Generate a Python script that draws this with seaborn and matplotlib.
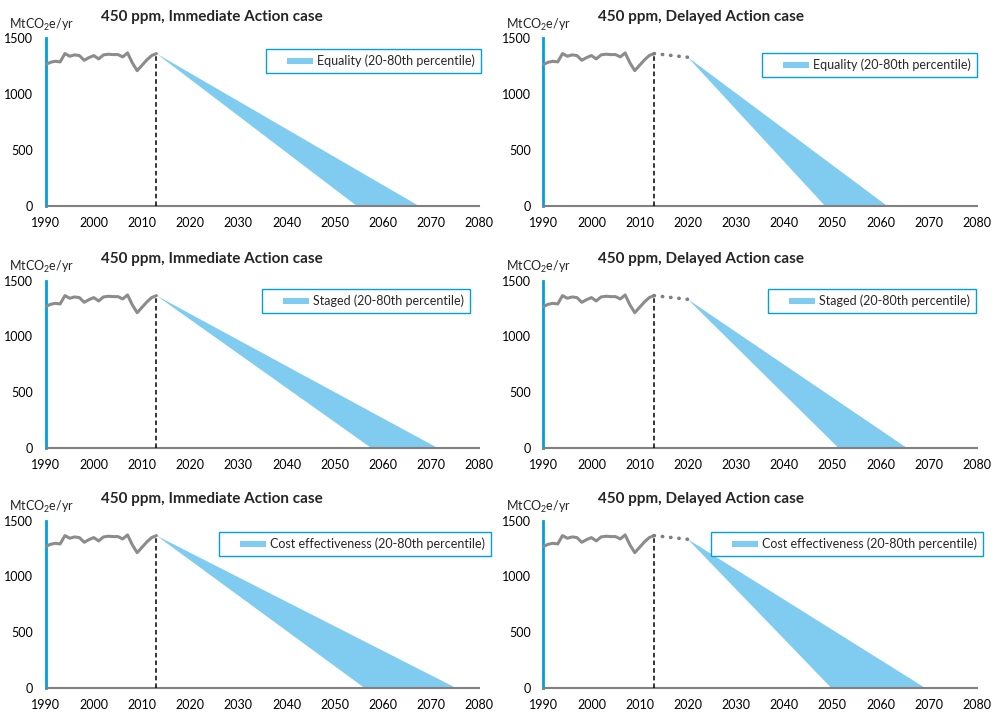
import matplotlib
matplotlib.use("Agg")
import matplotlib.pyplot as plt
import seaborn as sns
import pandas as pd
from matplotlib.patches import Rectangle
from matplotlib.legend_handler import HandlerPatch

# historical emissions (MtCO2e/yr)
years_hist = list(range(1990, 2014))
emissions_hist = [1266, 1287, 1296, 1290, 1365, 1341, 1353, 1347, 1305, 1329,
                  1347, 1317, 1353, 1359, 1356, 1356, 1335, 1371, 1281, 1212,
                  1260, 1308, 1347, 1365]

# delayed action: flat-ish extension until 2020
delay_years = [2013, 2020]
delay_values = [1365, 1332]

regimes = ["Equality", "Staged", "Cost effectiveness"]
cases = ["Immediate", "Delayed"]

# year at which the 20th / 80th percentile pathways reach zero
immediate_lower_zero = [2054.6, 2057.6, 2056.2]
immediate_upper_zero = [2067.5, 2071.4, 2075.2]
delayed_lower_zero = [2048.5, 2051.3, 2049.8]
delayed_upper_zero = [2061.4, 2065.5, 2069.3]

x_ticks = list(range(1990, 2081, 10))
y_ticks = [0, 500, 1000, 1500]

# legend anchors (axes fraction), per row / column
legend_anchor = [[(1.004, 0.937), (1.0, 0.913)],
                 [(0.979, 0.949), (0.998, 0.949)],
                 [(1.027, 0.931), (1.014, 0.931)]]

sns.set_style("white")
plt.rcParams["font.family"] = ["Lato", "DejaVu Sans"]
plt.rcParams["mathtext.default"] = "regular"

band_color = "#80CCF0"
blue = "#00A0E0"
grey = "#8C8C8C"


# legend swatch sits at the right part of a wider handle box (Excel look)
def swatch(legend, orig_handle, xdescent, ydescent, width, height, fontsize):
    sw = 19.0
    return Rectangle((width - xdescent - sw, -ydescent + height * 0.1), sw, height * 0.75)


hist = pd.DataFrame({"year": years_hist, "value": emissions_hist})

fig = plt.figure(figsize=(9.99, 7.14), dpi=100)

lefts = [0.0457, 0.5438]
bottoms = [0.7115, 0.3725, 0.0364]
w, h = 0.434, 0.2346

for r, regime in enumerate(regimes):
    for c, case in enumerate(cases):
        ax = fig.add_axes([lefts[c], bottoms[r], w, h])

        sns.lineplot(data=hist, x="year", y="value", ax=ax, color=grey,
                     linewidth=2.2, zorder=3)

        if case == "Immediate":
            x0, y0 = years_hist[-1], emissions_hist[-1]
            lo, hi = immediate_lower_zero[r], immediate_upper_zero[r]
        else:
            ax.plot(delay_years, delay_values, color="#7F7F7F", linewidth=2.6,
                    linestyle=(0, (0.1, 2.2)), dash_capstyle="round", zorder=3)
            x0, y0 = delay_years[-1], delay_values[-1]
            lo, hi = delayed_lower_zero[r], delayed_upper_zero[r]

        band = ax.fill([x0, lo, hi], [y0, 0, 0], color=band_color, linewidth=0,
                       label=f"{regime} (20-80th percentile)", zorder=2)[0]

        # dashed marker at base year
        ax.plot([years_hist[-1], years_hist[-1]], [0, emissions_hist[-1]],
                color="black", linestyle=(0, (3, 2)), linewidth=1.1, zorder=4)

        ax.set_xlim(1990, 2080)
        ax.set_ylim(0, 1500)
        ax.set_xticks(x_ticks)
        ax.set_yticks(y_ticks)
        ax.set_xlabel("")
        ax.set_ylabel("")

        for s in ["top", "right"]:
            ax.spines[s].set_visible(False)
        ax.spines["left"].set_color(blue)
        ax.spines["left"].set_linewidth(2)
        ax.spines["bottom"].set_color("#808080")
        ax.spines["bottom"].set_linewidth(1.5)

        ax.tick_params(axis="x", colors="#808080", labelcolor="black",
                       length=4, width=1, labelsize=9, pad=4)
        ax.tick_params(axis="y", colors="#9FD8F3", labelcolor="black",
                       length=3, width=1, labelsize=9, pad=6)

        ax.text(0.127, 1.128, f"450 ppm, {case} Action case",
                transform=ax.transAxes, fontsize=11, fontweight="bold",
                va="center", ha="left")
        ax.text(-0.085, 1.082, "MtCO$_2$e/yr", transform=ax.transAxes,
                fontsize=9, va="center", ha="left")

        leg = ax.legend(handles=[band], loc="upper right",
                        bbox_to_anchor=legend_anchor[r][c],
                        frameon=True, fancybox=False, framealpha=1,
                        fontsize=9, handlelength=3.3, handleheight=0.7,
                        handletextpad=0.35, borderpad=0.45, borderaxespad=0,
                        handler_map={band: HandlerPatch(patch_func=swatch)})
        leg.get_frame().set_edgecolor(blue)
        leg.get_frame().set_linewidth(1)

fig.savefig("out.png", dpi=100)
